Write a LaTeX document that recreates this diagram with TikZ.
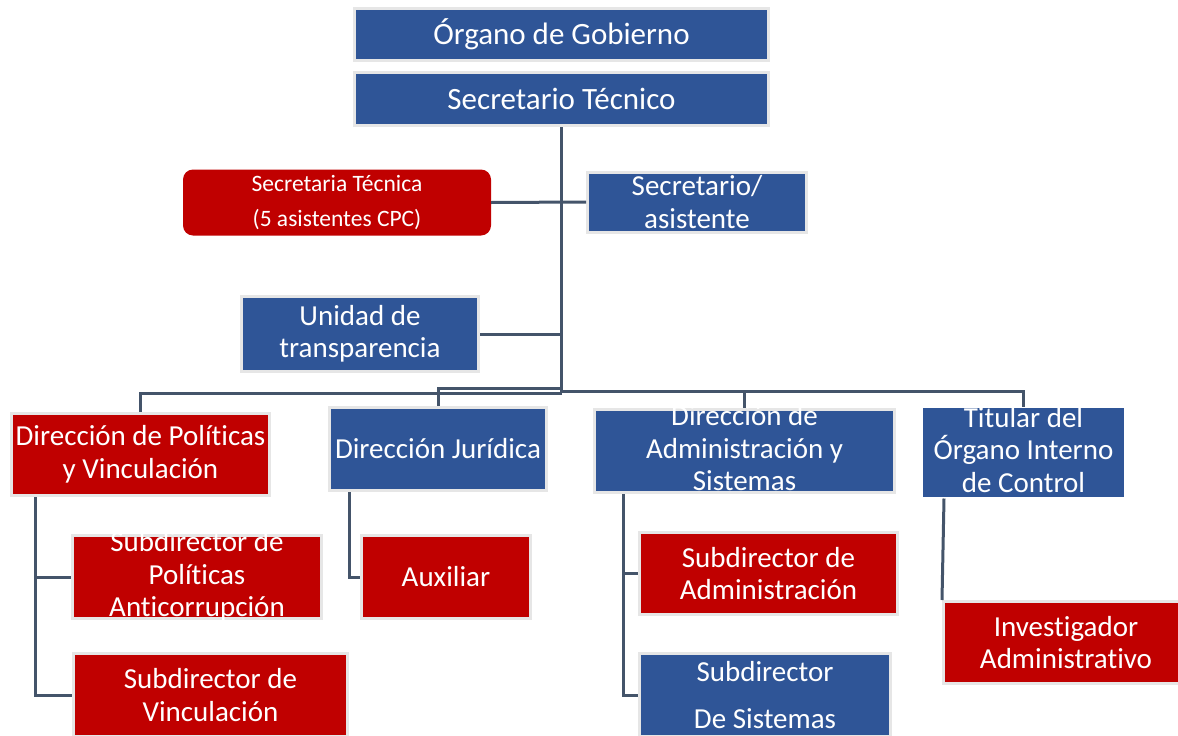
\documentclass[tikz,border=0pt]{standalone}
\usepackage{fontspec}
\setmainfont{Carlito}[Ligatures=NoCommon]
\usetikzlibrary{positioning}
\definecolor{orgblue}{HTML}{2F5597}
\definecolor{orgred}{HTML}{C00000}
\definecolor{orgline}{HTML}{44546A}
\definecolor{orgframe}{HTML}{E6E6E6}
\tikzset{
    bluenode/.style={rectangle, draw=orgframe, fill=orgblue, line width=3pt, text=white, inner sep=0pt, align=center, font=\fontsize{29}{32.5}\selectfont},
    rednode/.style={bluenode, fill=orgred},
    bignode/.style={bluenode, font=\fontsize{31}{36}\selectfont},
    roundnode/.style={rectangle, rounded corners=10pt, fill=orgred, text=white, inner sep=0pt, align=center, font=\fontsize{23.5}{35}\selectfont},
    threelines/.style={text height=79pt, text depth=0pt},
    myline/.style={draw=orgline, line width=3pt}
}
\begin{document}
\begin{tikzpicture}[x=1pt, y=-1pt]
    \useasboundingbox (0,0) rectangle (1178,736);
    \clip (0,0) rectangle (1178,736);

        % ------------------
        % nodes
        % ------------------

        \node[bignode, minimum width=414pt, minimum height=52pt] (gob) at (561.5,34.5) {Órgano de Gobierno};
        \node[bignode, minimum width=414pt, minimum height=53pt, below=9pt of gob] (sectec) {Secretario Técnico};

        \node[roundnode, minimum width=308pt, minimum height=66pt] (stec) at (337,202.5) {Secretaria Técnica\\(5 asistentes CPC)};
        \node[bluenode, minimum width=219pt, minimum height=60pt] (asist) at (697,202) {Secretario/\\asistente};

        \node[bluenode, minimum width=237pt, minimum height=75pt] (transp) at (360,334) {Unidad de\\transparencia};

        \node[rednode, minimum width=258pt, minimum height=82pt] (dpol) at (140.5,454.5) {Dirección de Políticas\\y Vinculación};
        \node[bluenode, minimum width=217pt, minimum height=83pt] (djur) at (438,449) {Dirección Jurídica};
        \node[bluenode, threelines, minimum width=300pt, minimum height=83pt] (dadm) at (744.5,451) {Dirección de\\Administración y\\Sistemas};
        \node[bluenode, threelines, draw=none, minimum width=201pt, minimum height=89pt] (toic) at (1023.5,452.5) {Titular del\\Órgano Interno\\de Control};

        \node[rednode, threelines, minimum width=249pt, minimum height=83pt] (spol) at (197,577) {Subdirector de\\Políticas\\Anticorrupción};
        \node[rednode, minimum width=274pt, minimum height=83pt] (svin) at (210.5,695) {Subdirector de\\Vinculación};

        \node[rednode, minimum width=169pt, minimum height=83pt] (aux) at (446,577) {Auxiliar};

        \node[rednode, minimum width=258pt, minimum height=82pt] (sadm) at (768.5,573.5) {Subdirector de\\Administración};
        \node[bluenode, minimum width=251pt, minimum height=83pt] (ssis) at (765,695) {Subdirector\\[14pt]De Sistemas};

        \node[rednode, minimum width=245pt, minimum height=82pt] (inv) at (1066,642.5) {Investigador\\Administrativo};

        % ------------------
        % lines
        % ------------------

        \coordinate (busP) at (561.5,393);
        \coordinate (busJ) at (561.5,388);
        \coordinate (busA) at (561.5,391);

        \draw[myline, line width=3.5pt] (sectec.south) -- (busP);
        \draw[myline] (stec.east) -- (asist.west);
        \draw[myline] (transp.east) -- (transp.east -| sectec.south);

        \draw[myline] (busP) -| (dpol.north);
        \draw[myline] (busJ) -| (djur.north);
        \draw[myline] (busA) -| (dadm.north);
        \draw[myline] (busA) -| (toic.north);

        \draw[myline] ([xshift=25.5pt]dpol.south west) |- (spol.west);
        \draw[myline] ([xshift=25.5pt]dpol.south west) |- (svin.west);
        \draw[myline] ([xshift=21.5pt]djur.south west) |- (aux.west);
        \draw[myline] ([xshift=30pt]dadm.south west) |- (sadm.west);
        \draw[myline] ([xshift=30pt]dadm.south west) |- (ssis.west);
        \draw[myline] ([xshift=22.5pt]toic.south west) -- (inv.north west);

    \end{tikzpicture}
\end{document}
